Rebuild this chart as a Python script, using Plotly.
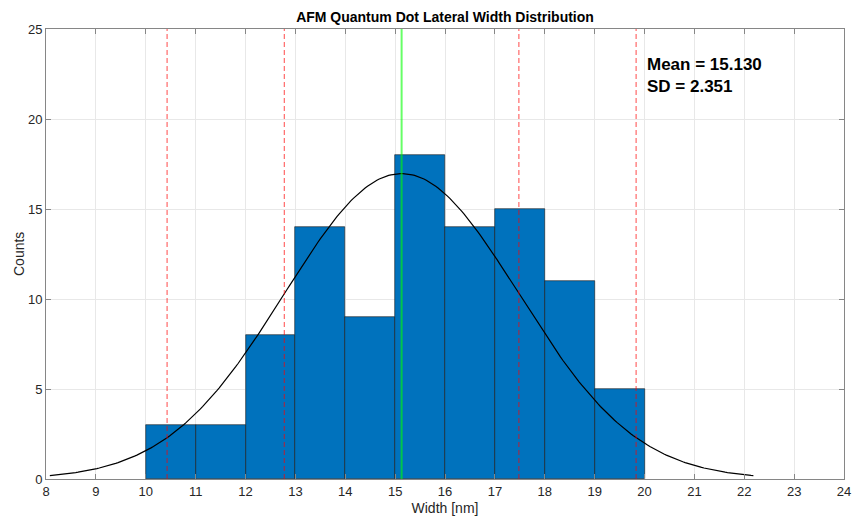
import numpy as np
import plotly.graph_objects as go

# Histogram of lateral widths (1 nm bins)
bin_left = [10, 11, 12, 13, 14, 15, 16, 17, 18, 19]
counts = [3, 3, 8, 14, 9, 18, 14, 15, 11, 5]
bin_width = 1.0

mean_w = 15.130
sd_w = 2.351

x_ticks = list(range(8, 25))
y_ticks = [0, 5, 10, 15, 20, 25]

FONT = "Liberation Sans, Arial, Helvetica, sans-serif"

n_total = sum(counts)
centers = [b + bin_width / 2 for b in bin_left]

# Normal fit scaled to counts, drawn over mean +/- 3 SD
xf = np.linspace(mean_w - 3 * sd_w, mean_w + 3 * sd_w, 300)
yf = n_total * bin_width / (sd_w * np.sqrt(2 * np.pi)) * np.exp(-0.5 * ((xf - mean_w) / sd_w) ** 2)

fig = go.Figure()
fig.add_trace(go.Bar(
    x=centers, y=counts, width=bin_width,
    marker=dict(color="#0072BD", line=dict(color="#1a1a1a", width=0.6)),
    showlegend=False, hoverinfo="x+y",
))
fig.add_trace(go.Scatter(
    x=xf, y=yf, mode="lines", line=dict(color="black", width=1.2),
    showlegend=False,
))

# SD markers (dashed red) and mean (green)
for k in (-2, -1, 1, 2):
    xv = mean_w + k * sd_w
    fig.add_shape(type="line", x0=xv, x1=xv, y0=0, y1=25, xref="x", yref="y",
                  line=dict(color="rgba(255,0,0,0.55)", width=1.3, dash="5px,3px"))
fig.add_shape(type="line", x0=mean_w, x1=mean_w, y0=0, y1=25, xref="x", yref="y",
              line=dict(color="rgba(0,255,0,0.6)", width=2))

fig.add_annotation(
    x=20.0, y=22.4, xref="x", yref="y", xanchor="left", yanchor="middle",
    text=f"<b>Mean = {mean_w:.3f}<br>SD = {sd_w:.3f}</b>",
    showarrow=False, align="left",
    font=dict(family=FONT, size=17, color="black"),
)

# y-axis label placed left of the tick labels
fig.add_annotation(
    x=0, y=0.5, xref="paper", yref="paper", xanchor="center", yanchor="middle",
    xshift=-27, text="Counts", textangle=-90, showarrow=False,
    font=dict(family=FONT, size=14, color="#262626"),
)

axis_common = dict(
    showline=True, linecolor="#868686", linewidth=1, mirror="ticks",
    ticks="inside", ticklen=5, tickcolor="#868686",
    showgrid=True, gridcolor="#e8e8e8", gridwidth=1, zeroline=False,
    automargin=False,
    tickfont=dict(family=FONT, size=13, color="#262626"),
)

fig.update_layout(
    width=853, height=519,
    margin=dict(l=46, r=9, t=29, b=40, autoexpand=False),
    paper_bgcolor="white", plot_bgcolor="white",
    bargap=0,
    title=dict(
        text="<b>AFM Quantum Dot Lateral Width Distribution</b>",
        x=0.5, xref="paper", xanchor="center", y=0.967, yanchor="middle",
        font=dict(family=FONT, size=14, color="black"),
    ),
    xaxis=dict(
        range=[8, 24], tickvals=x_ticks, ticktext=[str(v) for v in x_ticks],
        title=dict(text="Width [nm]", standoff=5,
                   font=dict(family=FONT, size=14, color="#262626")),
        **axis_common,
    ),
    yaxis=dict(
        range=[0, 25], tickvals=y_ticks, ticktext=[str(v) for v in y_ticks],
        **axis_common,
    ),
)

fig.write_html("out.html")
